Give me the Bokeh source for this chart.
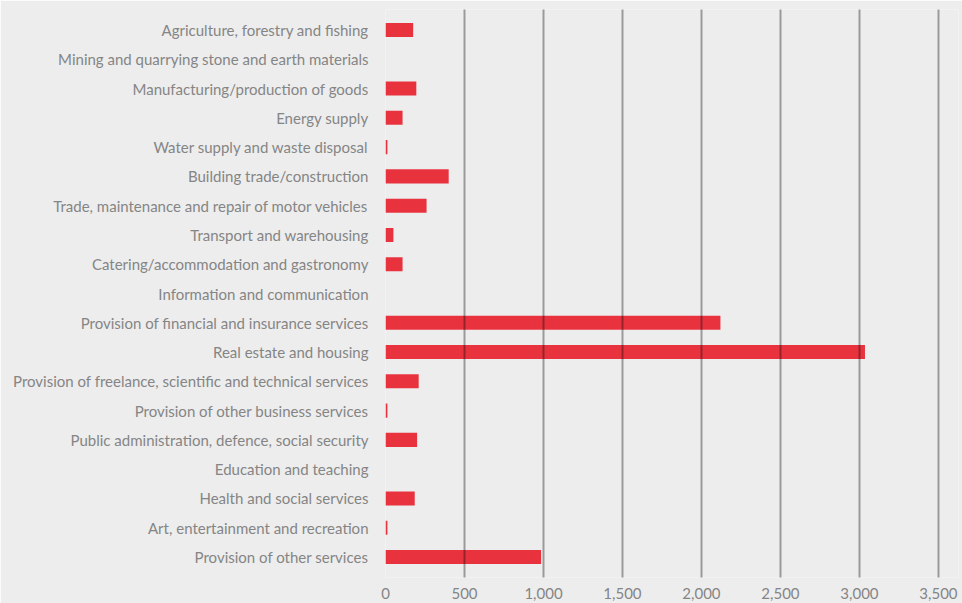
from bokeh.plotting import figure
from bokeh.models import ColumnDataSource, FactorRange, Range1d, FixedTicker, NumeralTickFormatter
from bokeh.embed import file_html
from bokeh.resources import INLINE

categories = [
    "Agriculture, forestry and fishing",
    "Mining and quarrying stone and earth materials",
    "Manufacturing/production of goods",
    "Energy supply",
    "Water supply and waste disposal",
    "Building trade/construction",
    "Trade, maintenance and repair of motor vehicles",
    "Transport and warehousing",
    "Catering/accommodation and gastronomy",
    "Information and communication",
    "Provision of financial and insurance services",
    "Real estate and housing",
    "Provision of freelance, scientific and technical services",
    "Provision of other business services",
    "Public administration, defence, social security",
    "Education and teaching",
    "Health and social services",
    "Art, entertainment and recreation",
    "Provision of other services",
]
values = [175, 0, 195, 108, 12, 400, 260, 50, 108, 0, 2120, 3035, 210, 12, 200, 0, 185, 12, 985]
x_ticks = [0, 500, 1000, 1500, 2000, 2500, 3000, 3500]

BG = "#EDEDED"
TXT = "#858585"
FONT = "Lato"

src = ColumnDataSource(dict(cat=categories, val=values))

p = figure(
    width=962, height=603,
    y_range=FactorRange(*list(reversed(categories)), range_padding=0.2, range_padding_units="absolute"),
    x_range=Range1d(0, 3627),
    output_backend="svg", toolbar_location=None,
    background_fill_color=BG, border_fill_color=BG,
    min_border_left=385, min_border_right=4, min_border_top=9, min_border_bottom=26,
)
p.outline_line_color = None

p.hbar(y="cat", right="val", left=0, height=0.48, source=src, color="#E8333F", line_color=None)

p.xaxis.ticker = FixedTicker(ticks=x_ticks)
p.xaxis.formatter = NumeralTickFormatter(format="0,0")
p.xaxis.axis_line_color = None
p.xaxis.major_tick_line_color = None
p.xaxis.minor_tick_line_color = None
p.xaxis.major_label_standoff = 4
p.xaxis.major_label_text_font = FONT
p.xaxis.major_label_text_font_size = "15px"
p.xaxis.major_label_text_color = TXT

p.yaxis.axis_line_color = None
p.yaxis.major_tick_line_color = None
p.yaxis.minor_tick_line_color = None
p.yaxis.major_label_standoff = 11
p.yaxis.major_label_text_font = FONT
p.yaxis.major_label_text_font_size = "15px"
p.yaxis.major_label_text_color = TXT

p.ygrid.grid_line_color = None
p.xgrid.grid_line_color = "black"
p.xgrid.grid_line_alpha = 0.35
p.xgrid.grid_line_width = 2
p.xgrid.level = "overlay"

open("out.html", "w").write(file_html(p, INLINE))
